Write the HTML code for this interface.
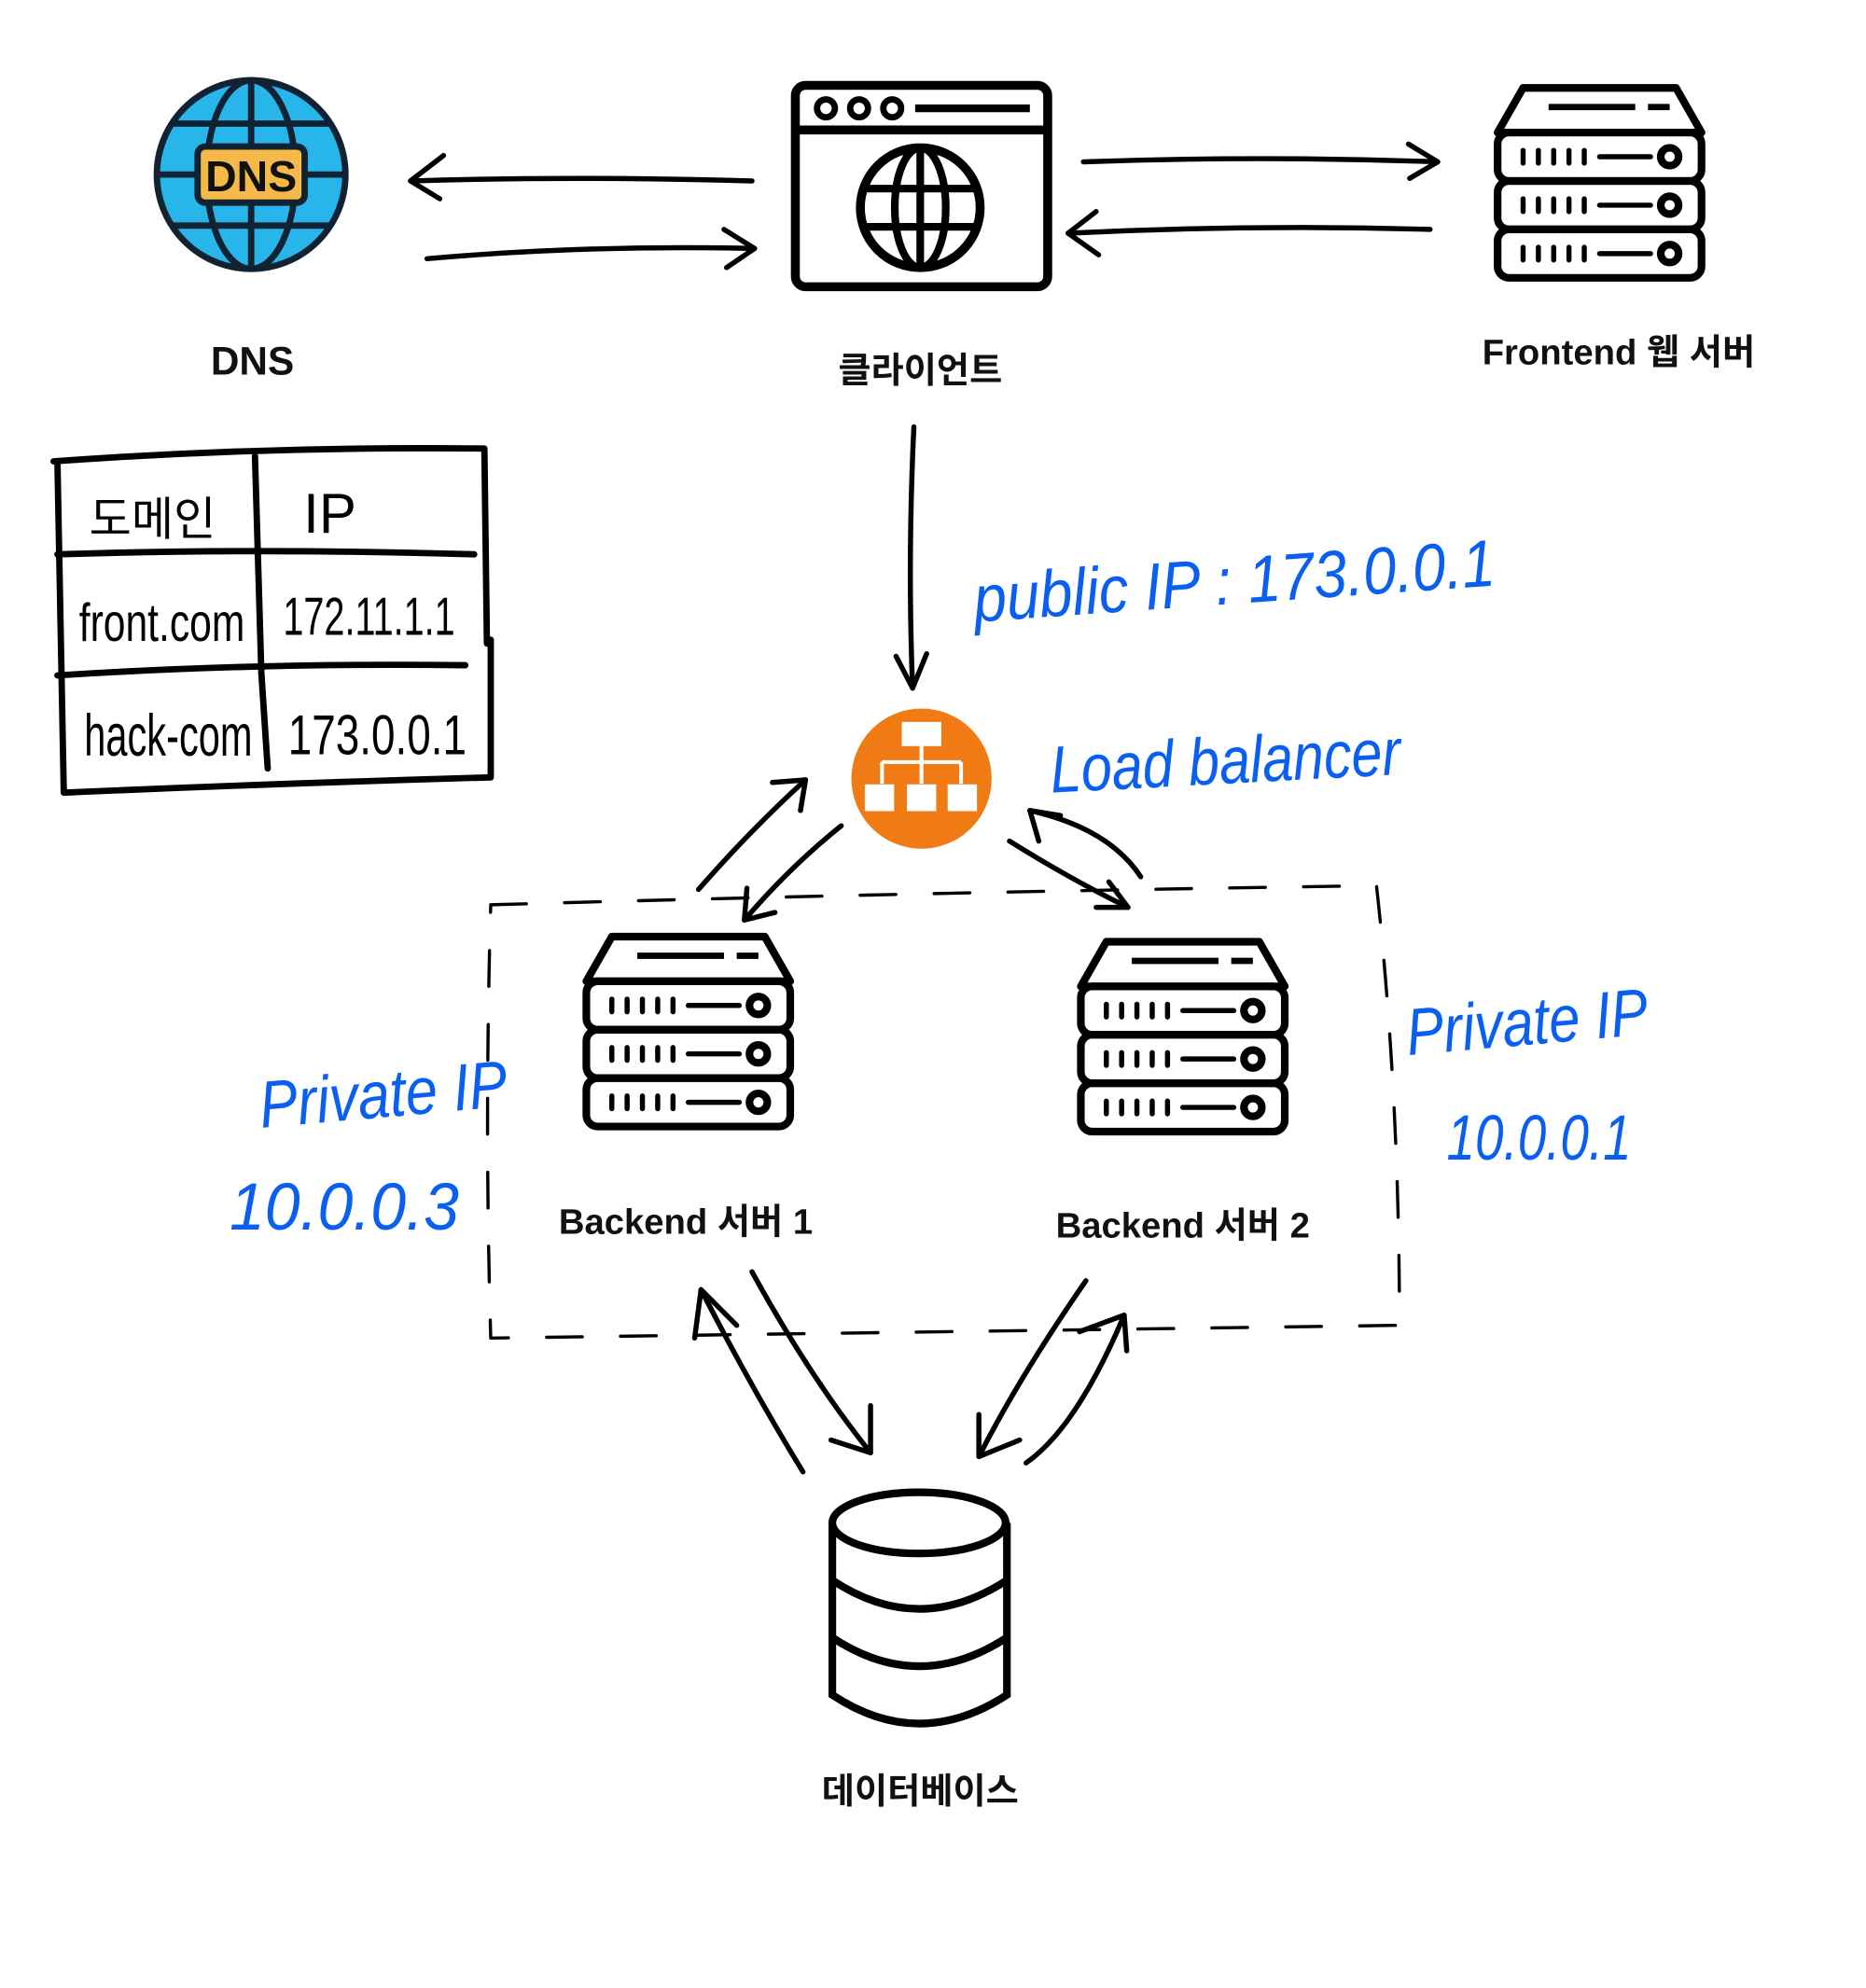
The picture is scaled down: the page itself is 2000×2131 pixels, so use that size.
<!DOCTYPE html>
<html><head><meta charset="utf-8"><style>
html,body{margin:0;padding:0;background:#fff;width:2000px;height:2131px;overflow:hidden}
svg{display:block}
.lbl{font-family:"Liberation Sans","Noto Sans CJK KR",sans-serif;font-weight:bold;fill:#111;text-anchor:middle}
.hw{font-family:"Liberation Sans","Noto Sans CJK KR",sans-serif;fill:#0a5ff0;font-style:italic}
.tb{font-family:"Liberation Sans","Noto Sans CJK KR",sans-serif;fill:#000}
</style></head><body>
<svg width="2000" height="2131" viewBox="0 0 1464 1560" xmlns="http://www.w3.org/2000/svg">
<defs>
<g id="srv" fill="none" stroke="#000" stroke-width="6" stroke-linejoin="round">
 <path d="M20,0 H140 L160,35 H0 Z" fill="#fff"/>
 <line x1="40" y1="15" x2="108" y2="15" stroke-width="5"/><line x1="118" y1="15" x2="135" y2="15" stroke-width="5"/>
 <rect x="0" y="35" width="160" height="38" rx="9"/><rect x="0" y="73" width="160" height="38" rx="9"/><rect x="0" y="111" width="160" height="38" rx="9"/>
 <g stroke-width="4" stroke-linecap="round">
  <path d="M20,49v10M32,49v10M44,49v10M56,49v10M68,49v10M80,54h40"/>
  <path d="M20,87v10M32,87v10M44,87v10M56,87v10M68,87v10M80,92h40"/>
  <path d="M20,125v10M32,125v10M44,125v10M56,125v10M68,125v10M80,130h40"/>
 </g>
 <circle cx="135" cy="54" r="7"/><circle cx="135" cy="92" r="7"/><circle cx="135" cy="130" r="7"/>
</g>
</defs>
<g fill="none" stroke="#000" stroke-width="4" stroke-linecap="round" stroke-linejoin="round">
 <path d="M590,142 Q450,138 322,142"/><path d="M348,122 L322,142 L345,156"/>
 <path d="M335,203 Q460,192 592,195"/><path d="M568,180 L592,195 L570,210"/>
 <path d="M850,127 Q990,122 1128,127"/><path d="M1105,113 L1128,127 L1106,140"/>
 <path d="M1122,180 Q980,176 838,183"/><path d="M860,166 L838,183 L862,200"/>
 <path d="M717,335 Q712,440 716,540"/><path d="M703,515 L716,540 L727,513"/>
 <path d="M548,698 Q590,650 632,612"/><path d="M606,614 L632,612 L628,636"/>
 <path d="M660,648 Q620,680 584,722"/><path d="M586,697 L584,722 L608,716"/>
 <path d="M792,660 Q840,690 885,712"/><path d="M860,712 L885,712 L870,692"/>
 <path d="M895,688 Q870,650 808,636"/><path d="M815,660 L808,636 L832,640"/>
 <path d="M630,1155 Q590,1090 550,1012"/><path d="M545,1050 L550,1012 L578,1040"/>
 <path d="M590,998 Q635,1080 683,1140"/><path d="M652,1130 L683,1140 L683,1103"/>
 <path d="M852,1005 Q800,1080 768,1143"/><path d="M768,1110 L768,1143 L800,1130"/>
 <path d="M805,1148 Q845,1120 882,1032"/><path d="M847,1045 L882,1032 L884,1060"/>
 <path d="M385,710 Q730,700 1080,695 Q1098,860 1098,1040 Q740,1045 385,1050 Q380,880 385,710" stroke-width="2.5" stroke-dasharray="28 30"/>
 <path d="M42,362 Q210,350 380,352 L382,505 M385,502 L385,610 Q210,615 50,622 L45,362" stroke-width="5"/>
 <path d="M200,358 L205,528 L210,603" stroke-width="5"/>
 <path d="M45,435 Q200,430 372,435" stroke-width="5"/>
 <path d="M45,530 Q200,520 365,522" stroke-width="5"/>
</g>
<text class="tb" x="70" y="420" font-size="36">도메인</text>
<text class="tb" x="238" y="418" font-size="44">IP</text>
<text class="tb" x="62" y="503" font-size="42" textLength="130" lengthAdjust="spacingAndGlyphs">front.com</text>
<text class="tb" x="222" y="498" font-size="42" textLength="135" lengthAdjust="spacingAndGlyphs">172.11.1.1</text>
<text class="tb" x="66" y="593" font-size="46" textLength="132" lengthAdjust="spacingAndGlyphs">hack-com</text>
<text class="tb" x="226" y="592" font-size="44" textLength="140" lengthAdjust="spacingAndGlyphs">173.0.0.1</text>

<g stroke="#123" stroke-width="5" fill="none">
 <circle cx="197" cy="137" r="74" fill="#27b5ea"/>
 <ellipse cx="197" cy="137" rx="35" ry="74"/>
 <line x1="197" y1="63" x2="197" y2="211"/>
 <path d="M135,97 H259 M135,177 H259 M123,137 H271"/>
 <rect x="155" y="115" width="84" height="44" rx="6" fill="#f5b94a"/>
</g>
<text x="197" y="150" font-family="Liberation Sans" font-weight="bold" font-size="34" text-anchor="middle" fill="#111">DNS</text>

<g fill="none" stroke="#000" stroke-width="7">
 <rect x="624" y="67" width="198" height="158" rx="8"/>
 <line x1="624" y1="102" x2="822" y2="102"/>
 <circle cx="648" cy="85" r="7" stroke-width="5"/><circle cx="674" cy="85" r="7" stroke-width="5"/><circle cx="700" cy="85" r="7" stroke-width="5"/>
 <line x1="718" y1="85" x2="808" y2="85" stroke-width="6"/>
 <circle cx="722" cy="163" r="47"/>
 <ellipse cx="722" cy="163" rx="20" ry="47" stroke-width="6"/>
 <path d="M722,116 V210 M677,148 H767 M677,178 H767" stroke-width="6"/>
</g>

<use href="#srv" x="1175" y="69"/>
<use href="#srv" x="460" y="735"/>
<use href="#srv" x="848" y="739"/>

<circle cx="723" cy="611" r="55" fill="#f07a14"/>
<g fill="#fff" stroke="#fff" stroke-width="3">
 <rect x="709" y="568" width="28" height="16"/>
 <path d="M723,584 V598 M692,598 H754 M692,598 V615 M723,598 V615 M754,598 V615" fill="none"/>
 <rect x="680" y="617" width="20" height="18"/><rect x="713" y="617" width="20" height="18"/><rect x="745" y="617" width="20" height="18"/>
</g>

<g fill="#fff" stroke="#000" stroke-width="6">
 <path d="M653,1195 V1330 Q721,1375 790,1330 V1195"/>
 <path d="M653,1240 Q721,1285 790,1240 M653,1285 Q721,1330 790,1285" fill="none"/>
 <ellipse cx="721" cy="1195" rx="68" ry="24"/>
</g>

<text class="lbl" x="198" y="294" font-size="31">DNS</text>
<text class="lbl" x="722" y="300" font-size="28">클라이언트</text>
<text class="lbl" x="1270" y="286" font-size="28">Frontend 웹 서버</text>
<text class="lbl" x="538" y="968" font-size="28">Backend 서버 1</text>
<text class="lbl" x="928" y="971" font-size="28">Backend 서버 2</text>
<text class="lbl" x="722" y="1415" font-size="28">데이터베이스</text>

<text class="hw" x="765" y="488" font-size="52" transform="rotate(-4 765 488)" textLength="410" lengthAdjust="spacingAndGlyphs">public IP : 173.0.0.1</text>
<text class="hw" x="825" y="622" font-size="52" transform="rotate(-3 825 622)" textLength="275" lengthAdjust="spacingAndGlyphs">Load balancer</text>
<text class="hw" x="205" y="885" font-size="52" transform="rotate(-5 205 885)" textLength="195" lengthAdjust="spacingAndGlyphs">Private IP</text>
<text class="hw" x="180" y="965" font-size="52" textLength="180" lengthAdjust="spacingAndGlyphs">10.0.0.3</text>
<text class="hw" x="1105" y="828" font-size="52" transform="rotate(-5 1105 828)" textLength="190" lengthAdjust="spacingAndGlyphs">Private IP</text>
<text class="hw" x="1135" y="910" font-size="50" textLength="145" lengthAdjust="spacingAndGlyphs">10.0.0.1</text>
</svg>
</body></html>
